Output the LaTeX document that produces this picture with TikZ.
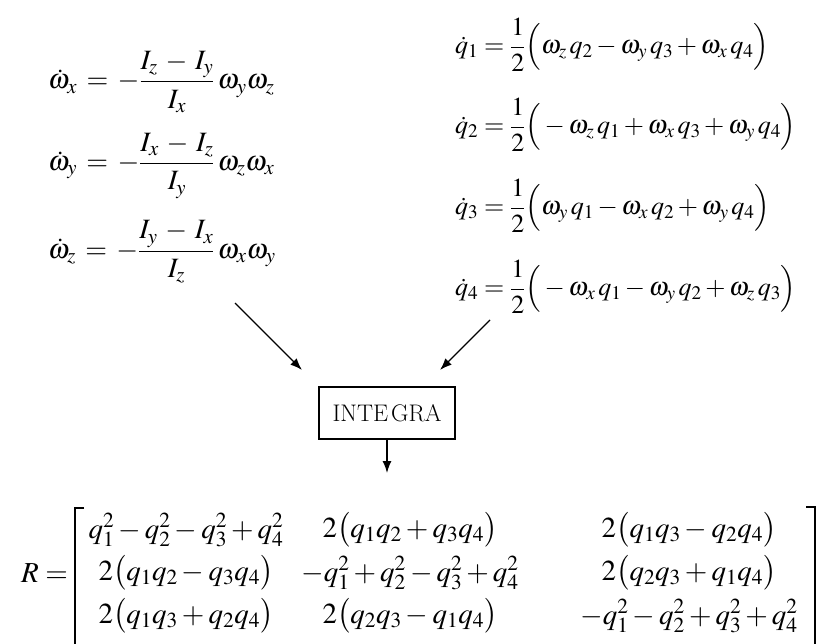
\documentclass[tikz,border=0pt]{standalone}
\usepackage{mathptmx}
\usepackage{amsmath}
\usetikzlibrary{arrows.meta}
\newcommand\widespL{\medmuskip=5mu\relax\thickmuskip=6mu\relax}
\tikzset{
  eq/.style={inner sep=0pt, font=\fontsize{28}{32}\selectfont},
  eqr/.style={inner sep=0pt, font=\fontsize{26}{30}\selectfont},
  ent/.style={inner sep=0pt, font=\fontsize{29}{33}\selectfont},
  boxn/.style={draw, line width=1.2pt, minimum width=136pt, minimum height=52pt, inner sep=0pt, font=\fontsize{24}{28}\selectfont},
  arr/.style={line width=1.3pt, -{Latex[length=12pt,width=9pt]}},
  brk/.style={line width=1.3pt}
}
\begin{document}
\begin{tikzpicture}[x=1pt,y=-1pt]
\useasboundingbox (0,0) rectangle (819,644);
% left equations
\node[eq, anchor=west] (wx) at (48,82) {$\widespL\dot\omega_x=-\dfrac{I_z-I_y}{I_x}\,\omega_y\omega_z$};
\node[eq, anchor=west] (wy) at (48,166) {$\widespL\dot\omega_y=-\dfrac{I_x-I_z}{I_y}\,\omega_z\omega_x$};
\node[eq, anchor=west] (wz) at (48,252) {$\widespL\dot\omega_z=-\dfrac{I_y-I_x}{I_z}\,\omega_x\omega_y$};
% right equations
\node[eqr, anchor=west] (q1) at (455,45) {$\dot q_1=\dfrac{1}{2}\Big(\omega_z\,q_2-\omega_y\,q_3+\omega_x\,q_4\Big)$};
\node[eqr, anchor=west] (q2) at (455,125) {$\dot q_2=\dfrac{1}{2}\Big(-\omega_z\,q_1+\omega_x\,q_3+\omega_y\,q_4\Big)$};
\node[eqr, anchor=west] (q3) at (455,206) {$\dot q_3=\dfrac{1}{2}\Big(\omega_y\,q_1-\omega_x\,q_2+\omega_y\,q_4\Big)$};
\node[eqr, anchor=west] (q4) at (455,287) {$\dot q_4=\dfrac{1}{2}\Big(-\omega_x\,q_1-\omega_y\,q_2+\omega_z\,q_3\Big)$};
% integra box
\node[boxn] (integ) at (387,413) {INTE\kern3pt GRA};
\coordinate (la) at (235,303);
\coordinate (lb) at (302,370);
\coordinate (ra) at (490,320);
\coordinate (rb) at (440,370);
\coordinate (db) at (387,473);
\draw[arr] (la) -- (lb);
\draw[arr] (ra) -- (rb);
\draw[arr] (integ.south) -- (db);
% matrix
\node[ent, anchor=east] (R) at (68,573) {$R=$};
\node[ent] (m11) at (186,530) {$q_1^2-q_2^2-q_3^2+q_4^2$};
\node[ent] (m12) at (410,530) {$2\big(q_1q_2+q_3q_4\big)$};
\node[ent] (m13) at (689,530) {$2\big(q_1q_3-q_2q_4\big)$};
\node[ent] (m21) at (186,573) {$2\big(q_1q_2-q_3q_4\big)$};
\node[ent] (m22) at (410,573) {$-q_1^2+q_2^2-q_3^2+q_4^2$};
\node[ent] (m23) at (689,573) {$2\big(q_2q_3+q_1q_4\big)$};
\node[ent] (m31) at (186,616) {$2\big(q_1q_3+q_2q_4\big)$};
\node[ent] (m32) at (410,616) {$2\big(q_2q_3-q_1q_4\big)$};
\node[ent] (m33) at (689,616) {$-q_1^2-q_2^2+q_3^2+q_4^2$};
\draw[brk] (84,508) -- (75,508) -- (75,650);
\draw[brk] (806,507) -- (815,507) -- (815,650);
\end{tikzpicture}
\end{document}
